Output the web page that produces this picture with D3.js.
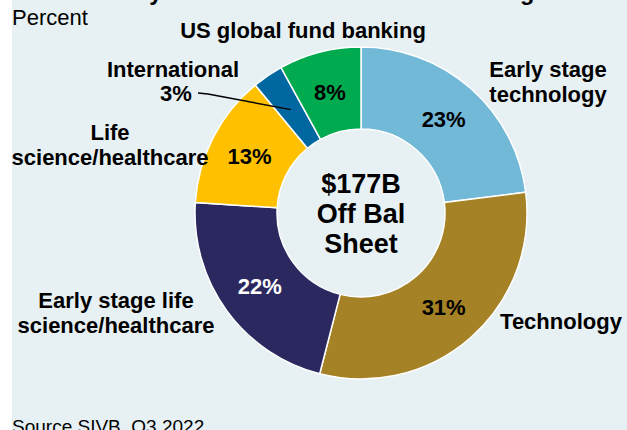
<!DOCTYPE html>
<html>
<head>
<meta charset="utf-8">
<script src="https://cdn.jsdelivr.net/npm/d3@7"></script>
<style>
  html, body { margin: 0; padding: 0; background: #ffffff; }
  svg { display: block; }
  text { font-family: "Liberation Sans", Arial, sans-serif; }
</style>
</head>
<body>
<svg id="chart" width="627" height="430"></svg>
<script>
// ---- data ----
const categories = [
  "Early stage technology",
  "Technology",
  "Early stage life science/healthcare",
  "Life science/healthcare",
  "International",
  "US global fund banking"
];
const values = [23, 31, 22, 13, 3, 8];
const colors = ["#71B9D7", "#A58225", "#2B2860", "#FFC000", "#0067A0", "#00AB50"];
const title = "Silicon Valley Bank Off-Balance Sheet Funding";
const subtitle = "Percent";
const centerLines = ["$177B", "Off Bal", "Sheet"];
const source = "Source SIVB, Q3 2022";

// ---- layout ----
const W = 627, H = 430;
const svg = d3.select("#chart");
svg.append("rect").attr("x", 12).attr("y", 0).attr("width", W - 12).attr("height", H).attr("fill", "#E7F0F3");

const cx = 361, cy = 213, rOuter = 166, rInner = 84;
const g = svg.append("g").attr("transform", `translate(${cx},${cy})`);

const pie = d3.pie().sort(null).value(d => d.value);
const arc = d3.arc().innerRadius(rInner).outerRadius(rOuter);
const data = categories.map((c, i) => ({ cat: c, value: values[i], color: colors[i] }));
const arcs = pie(data);

g.selectAll("path.slice").data(arcs).enter().append("path")
  .attr("class", "slice")
  .attr("d", arc)
  .attr("fill", d => d.data.color)
  .attr("stroke", "#ffffff")
  .attr("stroke-width", 1.5);

// inside percent labels (not for International)
g.selectAll("text.pct").data(arcs.filter(d => d.data.cat !== "International")).enter().append("text")
  .attr("class", "pct")
  .attr("x", d => arc.centroid(d)[0])
  .attr("y", d => arc.centroid(d)[1])
  .attr("dy", "0.36em")
  .attr("text-anchor", "middle")
  .attr("font-size", 22)
  .attr("font-weight", "bold")
  .attr("fill", d => d.data.cat === "Early stage life science/healthcare" ? "#ffffff" : "#000000")
  .text(d => d.data.value + "%");

// center text
g.selectAll("text.center").data(centerLines).enter().append("text")
  .attr("class", "center")
  .attr("x", 0)
  .attr("y", (d, i) => -20 + i * 30)
  .attr("text-anchor", "middle")
  .attr("font-size", 27)
  .attr("font-weight", "bold")
  .attr("fill", "#000")
  .text(d => d);

// outside labels: anchor positions (page coords) for each category
const outside = {
  "Early stage technology": { x: 548, y: 77, lines: ["Early stage", "technology"] },
  "Technology": { x: 561, y: 329, lines: ["Technology"] },
  "Early stage life science/healthcare": { x: 116, y: 308, lines: ["Early stage life", "science/healthcare"] },
  "Life science/healthcare": { x: 110, y: 140, lines: ["Life", "science/healthcare"] },
  "International": { x: 173, y: 77, lines: ["International"] },
  "US global fund banking": { x: 303, y: 38, lines: ["US global fund banking"] }
};
arcs.forEach(d => {
  const o = outside[d.data.cat];
  const t = svg.append("text")
    .attr("text-anchor", "middle")
    .attr("font-size", 22)
    .attr("font-weight", "bold")
    .attr("fill", "#000");
  o.lines.forEach((ln, i) => {
    t.append("tspan").attr("x", o.x).attr("y", o.y + i * 24.5).text(ln);
  });
});

// International value label + leader line
const intl = arcs.find(d => d.data.cat === "International");
svg.append("text")
  .attr("x", 176).attr("y", 101)
  .attr("text-anchor", "middle")
  .attr("font-size", 22).attr("font-weight", "bold").attr("fill", "#000")
  .text(intl.data.value + "%");
const c = arc.centroid(intl);
svg.append("path")
  .attr("d", d3.line()([[198, 93], [208, 94], [cx + c[0], cy + c[1]]]))
  .attr("fill", "none").attr("stroke", "#000").attr("stroke-width", 1.5);

// title (cut off at top), subtitle, source
svg.append("text").attr("x", 12).attr("y", -0.5)
  .attr("font-size", 23.5).attr("font-weight", "bold").attr("fill", "#000").text(title);
svg.append("text").attr("x", 12).attr("y", 25)
  .attr("font-size", 22).attr("fill", "#000").text(subtitle);
svg.append("text").attr("x", 12).attr("y", 433)
  .attr("font-size", 19).attr("fill", "#000").text(source);
</script>
</body>
</html>
